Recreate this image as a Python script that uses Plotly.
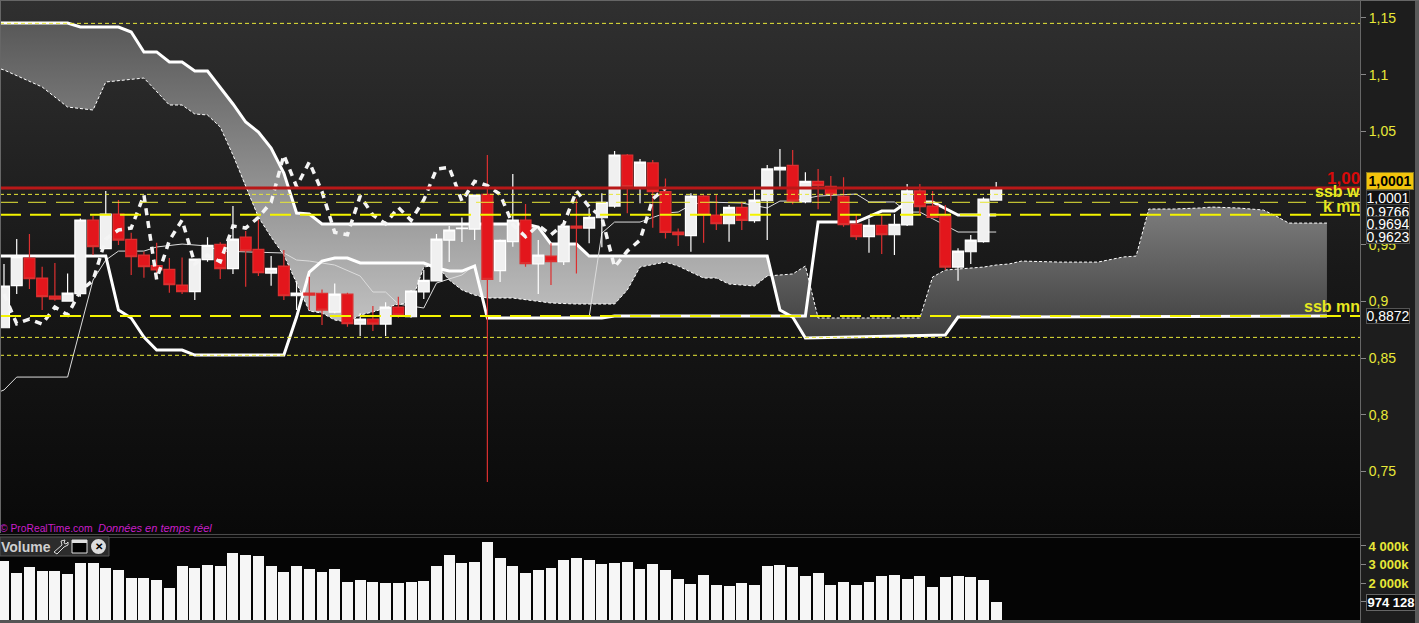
import numpy as np
import plotly.graph_objects as go

W, H = 1419, 623
# --- candles, one entry per bar
OPEN = [.8768,.9139,.9383,.9206,.9047,.9003,.9068,.9718,.9465,.9771,.9547,.9409,.9315,.9283,.9144,.9086,.9368,.9503,.9289,.9568,
        .9459,.9250,.9312,.9050,.9074,.9071,.8906,.9065,.8800,.8845,.8800,.8950,.8865,.9083,.9180,.9541,.9641,.9638,.9944,.9271,
        .9527,.9718,.9330,.9400,.9350,.9665,.9647,.9738,.9841,1.0291,1.0012,1.0221,.9968,.9612,.9580,.9929,.9762,.9685,.9829,.9712,
        .9888,1.0159,1.0200,.9877,1.0059,1.0015,.9926,.9682,.9571,.9671,.9588,.9674,.9974,.9841,.9753,.9303,.9438,.9527,.9894]
HIGH = [.9330,.9550,.9594,.9306,.9338,.9247,.9732,.9753,.9974,.9894,.9606,.9438,.9518,.9383,.9388,.9374,.9565,.9521,.9841,.9621,
        .9718,.9400,.9453,.9177,.9218,.9106,.9159,.9077,.8895,.8959,.8992,.9042,.9100,.9277,.9594,.9665,.9741,.9938,1.0291,.9547,
        1.0123,.9859,.9541,.9512,.9718,.9900,.9821,.9953,1.0326,1.0300,1.0256,1.0247,1.0085,.9644,.9953,.9938,.9938,.9850,.9879,.9988,
        1.0203,1.0344,1.0335,1.0138,1.0168,1.0106,1.0094,.9762,.9732,.9762,.9771,1.0035,1.0035,.9974,.9850,.9468,.9585,.9918,1.0053]
LOW = [.8768,.9065,.9109,.8924,.9006,.8997,.9042,.9409,.9465,.9497,.9233,.9209,.9247,.9077,.9065,.9012,.9350,.9197,.9241,.9130,
       .9224,.9139,.9012,.8924,.8924,.8792,.8895,.8777,.8695,.8739,.8695,.8856,.8856,.9021,.9180,.9347,.9524,.9541,.7407,.9171,
       .9483,.9306,.9065,.9144,.9321,.9247,.9512,.9477,.9827,.9777,.9865,.9650,.9556,.9488,.9438,.9518,.9630,.9527,.9630,.9694,
       .9541,1.0012,.9856,.9865,.9812,.9888,.9659,.9541,.9430,.9418,.9409,.9665,.9771,.9732,.9277,.9183,.9330,.9518,.9894]
CLOSE = [.9136,.9394,.9200,.9042,.9021,.9074,.9718,.9483,.9771,.9541,.9394,.9306,.9277,.9147,.9086,.9374,.9494,.9289,.9550,.9447,
         .9253,.9291,.9050,.9074,.9056,.8924,.9065,.8803,.8845,.8800,.8950,.8880,.9092,.9186,.9550,.9630,.9647,.9938,.9194,.9538,
         .9718,.9333,.9409,.9350,.9665,.9647,.9741,.9874,1.0291,1.0012,1.0229,.9968,.9609,.9588,.9929,.9762,.9685,.9829,.9715,.9894,
         1.0168,1.0182,.9885,1.0059,1.0021,.9944,.9677,.9571,.9671,.9588,.9680,.9974,.9835,.9741,.9303,.9444,.9541,.9903,1.0001]
VOLUME_K = [3189,2541,2865,2649,2649,2486,3081,3081,2811,2703,2270,2270,2162,1730,2919,2811,2973,2919,3622,3514,
            3459,2919,2595,2919,2757,2595,2757,2054,2162,2054,2000,2000,2054,2108,2919,3514,3081,3135,4216,3351,
            2919,2541,2703,2811,3243,3351,3243,3027,3081,3135,2757,3027,2703,2216,1946,2432,1892,1838,2000,1892,
            2919,2973,2865,2378,2541,1892,2054,1892,2054,2378,2432,2216,2378,1784,2324,2378,2324,2162,974]

# --- ichimoku lines: vertices as (bar index, price)
SSB_IDX = [-1,5,6,9,10,11,12,13,14,15,16,17,18,19,20,21,22,23,24,25,41,42,43,45,46,60,61,62,63,74,75,104]
SSB = [1.1455,1.1455,1.1420,1.1420,1.1376,1.1200,1.1200,1.1111,1.1111,1.1032,1.1032,1.0891,1.0741,1.0582,1.0494,1.0353,1.0132,.9780,.9771,.9683,
       .9683,.9656,.9506,.9506,.9400,.9400,.8924,.8862,.8677,.8704,.8862,.8871]
SSA_IDX = [-1,0,3,5,7,8,11,13,14,15,16,17,18,19,20,21,22,23,24,25,26,27,28,29,31,32,33,34,35,36,37,38,40,43,45,48,49,50,52,53,54,55,56,57,59,60,62,63,
           64,72,73,74,77,78,79,80,83,86,88,89,90,92,94,95,97,99,100,101,104]
SSA = [1.1076,1.1041,1.0891,1.0714,1.0688,1.0935,1.0970,1.0732,1.0732,1.0653,1.0644,1.0538,1.0291,1.0009,.9744,.9568,.9409,.9162,.8915,.8898,.8836,.8818,.8880,.8907,.8977,.8986,.9303,.9321,.9189,.9101,.9056,.9030,.9030,.8986,.8977,.8977,.9101,.9303,.9347,.9312,.9259,.9206,.9206,.9153,.9136,.9224,.9242,.9312,
       .8854,.8854,.9215,.9277,.9303,.9321,.9330,.9356,.9347,.9347,.9392,.9400,.9815,.9815,.9824,.9832,.9824,.9806,.9753,.9691,.9691]
KIJUN_IDX = [-1,8,9,10,11,12,14,15,22,23,24,25,26,27,28,33,34,35,36,37,38,47,48,63,64,67,69,70,71,73,75,78]
KIJUN = [.9400,.9400,.8924,.8854,.8686,.8571,.8571,.8527,.8527,.8862,.9259,.9356,.9383,.9383,.9339,.9339,.9295,.9268,.9268,.9312,.8854,.8854,.8871,.8871,.9700,.9700,.9797,.9797,.9877,.9877,.9762,.9762]
TENKAN_IDX = [-1,0,1,5,7,8,9,11,12,14,16,17,22,23,24,25,26,28,29,30,31,33,34,35,36,37,38,46,47,48,50,52,53,54,55,58,60,61,62,64,67,68,70,71,72,75,78]
TENKAN = [.8175,.8219,.8333,.8333,.9189,.9365,.9444,.9444,.9480,.9506,.9489,.9444,.9427,.9365,.9356,.9339,.9321,.9224,.9083,.9083,.8977,.8942,.9162,.9198,.9233,.9321,.8854,.8862,.9603,.9700,.9700,.9780,.9788,.9850,.9877,.9868,.9824,.9885,.9885,.9929,.9947,.9877,.9877,.9788,.9788,.9612,.9612]
CHIKOU_SHIFT = 26
CLOUD_CROSS_IDX = 60.37

Y_TICK_VALS = [1.15,1.10,1.05,.95,.90,.85,.80,.75]
Y_TICK_TEXT = ["1,15","1,1","1,05","0,95","0,9","0,85","0,8","0,75"]
VOL_TICK_VALS = [4000,3000,2000,974]
VOL_TICK_TEXT = ["<b>4 000k</b>","<b>3 000k</b>","<b>2 000k</b>",""]
THIN_LEVELS = [1.1452,.9944,.8683,.8525]
MID_LEVELS = [.9874]
THICK_LEVELS = [.9765,.8871]
RED_LEVEL = 1.0001
PRICE_RANGE = [.6958,1.1658]
VOL_RANGE = [0,4486]
BARS = list(range(len(CLOSE)))
X_RANGE = [-0.314,106.6]
YEL = "#e8e838"
FONT = "Liberation Sans"

def poly(lo, hi):
    xs = sorted({lo, hi} | {i for i in SSA_IDX + SSB_IDX if lo < i < hi})
    a = np.interp(xs, SSA_IDX, SSA)
    b = np.interp(xs, SSB_IDX, SSB)
    return xs + xs[::-1], list(a) + list(b[::-1])

fig = go.Figure()
# panel background gradient
fig.add_trace(go.Scatter(x=[X_RANGE[0],X_RANGE[1],X_RANGE[1],X_RANGE[0]], y=[PRICE_RANGE[0],PRICE_RANGE[0],PRICE_RANGE[1],PRICE_RANGE[1]],
    mode="none", fill="toself", hoverinfo="skip", showlegend=False,
    fillgradient=dict(type="vertical", colorscale=[[0,"#090909"],[0.5,"#191919"],[1,"#303030"]], start=PRICE_RANGE[0], stop=PRICE_RANGE[1])))
# cloud
x1, y1 = poly(-1, CLOUD_CROSS_IDX)
fig.add_trace(go.Scatter(x=x1, y=y1, mode="none", fill="toself", hoverinfo="skip", showlegend=False,
    fillgradient=dict(type="vertical", colorscale=[[0,"#c0c0c0"],[1,"#585858"]], start=.8836, stop=1.1455)))
x2, y2 = poly(CLOUD_CROSS_IDX, 104)
fig.add_trace(go.Scatter(x=x2, y=y2, mode="none", fill="toself", hoverinfo="skip", showlegend=False,
    fillgradient=dict(type="vertical", colorscale=[[0,"#3e3e3e"],[1,"#7c7c7c"]], start=.8677, stop=.9824)))
fig.add_trace(go.Scatter(x=SSA_IDX, y=SSA, mode="lines", line=dict(color="#ffffff", width=1, dash="3px,2px"), hoverinfo="skip", showlegend=False))
fig.add_trace(go.Scatter(x=SSB_IDX, y=SSB, mode="lines", line=dict(color="#ffffff", width=3), hoverinfo="skip", showlegend=False))
fig.add_trace(go.Scatter(x=TENKAN_IDX, y=TENKAN, mode="lines", line=dict(color="#dcdcdc", width=1), hoverinfo="skip", showlegend=False))
fig.add_trace(go.Scatter(x=KIJUN_IDX, y=KIJUN, mode="lines", line=dict(color="#ffffff", width=3), hoverinfo="skip", showlegend=False))
# overlay subplot: candles then the lagging line, above the cloud and the other lines
fig.add_trace(go.Candlestick(x=BARS, open=OPEN, high=HIGH, low=LOW, close=CLOSE, showlegend=False, hoverinfo="skip", whiskerwidth=0,
    xaxis="x3", yaxis="y3",
    increasing=dict(line=dict(color="#ffffff", width=1.2), fillcolor="#f0f0f0"),
    decreasing=dict(line=dict(color="#dc3030", width=1.2), fillcolor="#e3161c")))
fig.add_trace(go.Scatter(x=[b - CHIKOU_SHIFT for b in BARS[CHIKOU_SHIFT:]], y=CLOSE[CHIKOU_SHIFT:], mode="lines", xaxis="x3", yaxis="y3",
    line=dict(color="#f4f4f4", width=3.5, dash="7px,6px"), hoverinfo="skip", showlegend=False))
# volume
fig.add_trace(go.Bar(x=BARS, y=VOLUME_K, width=0.86, marker=dict(color="#f6f6f6", line=dict(width=0)), xaxis="x2", yaxis="y2", hoverinfo="skip", showlegend=False))

def px(x): return x / W
def py(y): return 1 - y / H

shapes = []
for v in THIN_LEVELS:
    shapes.append(dict(type="line", xref="x domain", x0=0, x1=1, yref="y", y0=v, y1=v, line=dict(color=YEL, width=1, dash="4px,3px")))
for v in MID_LEVELS:
    shapes.append(dict(type="line", xref="x domain", x0=0, x1=1, yref="y", y0=v, y1=v, line=dict(color=YEL, width=1, dash="18px,10px")))
for v in THICK_LEVELS:
    shapes.append(dict(type="line", xref="x domain", x0=0, x1=1, yref="y", y0=v, y1=v, line=dict(color="#f4f400", width=2, dash="21px,9px")))
shapes.append(dict(type="line", xref="x domain", x0=0, x1=1, yref="y", y0=RED_LEVEL, y1=RED_LEVEL, line=dict(color="#b81818", width=3)))

def rect(x0, y0, x1, y1, fill, line=None, lw=0, layer="above"):
    return dict(type="rect", xref="paper", yref="paper", x0=px(x0), x1=px(x1), y0=py(y0), y1=py(y1),
                fillcolor=fill, line=dict(color=line or fill, width=lw), layer=layer)

# frame pieces
shapes += [
    rect(0, 533, 1360, 537, "#0a0a0a"),
    rect(0, 534, 1360, 535, "#4a4a4a"),
    rect(0, 537, 1360, 538, "#3c3c3c"),
    rect(1360, 0, 1361, 623, "#666666"),
    rect(0, 620, 1361, 623, "#555555"),
    rect(1415, 0, 1419, 623, "#5a5a5a"),
    rect(0, 0, 1419, 1, "#666666"),
    rect(0, 0, 1, 533, "#666666"),
    # volume tool strip
    rect(0, 537, 109, 556, "#2c2c2c", "#555555", 1),
    rect(72, 540, 87, 553, "#000000", "#dddddd", 1),
    rect(72, 540, 87, 543, "#dddddd"),
    dict(type="circle", xref="paper", yref="paper", x0=px(91), x1=px(106), y0=py(539), y1=py(554), fillcolor="#dcdcdc", line=dict(width=0)),
    dict(type="path", xref="paper", yref="paper", line=dict(color="#dddddd", width=1),
         path=f"M {px(54)},{py(552)} L {px(62)},{py(545)} L {px(61)},{py(541)} L {px(65)},{py(540)} L {px(64)},{py(543)} L {px(66)},{py(544)} L {px(68)},{py(542)} L {px(68)},{py(545)} L {px(64)},{py(547)} L {px(57)},{py(554)} Z"),
]

def note(x, y, text, color, size, anchor="right", bold=False, italic=False, bg=None, border=None, w=None, h=None, align=None):
    t = text
    if bold: t = f"<b>{t}</b>"
    if italic: t = f"<i>{t}</i>"
    d = dict(xref="paper", yref="paper", x=px(x), y=py(y), xanchor=anchor, yanchor="middle", text=t, showarrow=False,
             font=dict(family=FONT, size=size, color=color), borderpad=0, borderwidth=0)
    if bg: d["bgcolor"] = bg
    if border: d.update(bordercolor=border, borderwidth=1)
    if w: d["width"] = w
    if h: d["height"] = h
    if align: d["align"] = align
    return d

anns = [
    note(1360, 179, "1,00", "#d80a0a", 17, bold=True),
    note(1360, 192, "ssb w", "#e8e820", 16, bold=True),
    note(1360, 206, "k mn", "#e8e820", 16, bold=True),
    note(1360, 306, "ssb mn", "#e8e820", 16, bold=True),
    note(1366, 180.5, "<b>1,0001</b>", "#000000", 14, anchor="left", bg="#f2c40c", border="#8a7a20", w=46, h=16),
    note(1366, 197.5, "1,0001", "#ffffff", 14, anchor="left", bg="#111111", border="#444444", w=42, h=14),
    note(1366, 212, "0,9766", "#ffffff", 14, anchor="left", bg="#1a1a1a", border="#444444", w=42, h=14),
    note(1366, 224, "0,9694", "#ffffff", 14, anchor="left", bg="#1a1a1a", border="#444444", w=42, h=14),
    note(1366, 236, "0,9623", "#ffffff", 14, anchor="left", bg="#1a1a1a", border="#555555", w=42, h=13),
    note(1366, 316, "0,8872", "#ffffff", 14, anchor="left", bg="#111111", border="#555555", w=42, h=14),
    note(1366, 602.5, "<b>974 128</b>", "#ffffff", 13, anchor="left", bg="#0c0c0c", border="#666666", w=48, h=15),
    note(0, 528, "© ProRealTime.com", "#c81ec8", 10.3, anchor="left"),
    note(98, 528, "Données en temps réel", "#c81ec8", 11, anchor="left", italic=True),
    note(1, 547, "Volume", "#cfcfcf", 14, anchor="left", bold=True),
    note(98.5, 546.5, "✕", "#000000", 10, anchor="center", bold=True),
]

fig.update_layout(
    width=W, height=H, autosize=False, margin=dict(l=0, r=0, t=0, b=0),
    paper_bgcolor="#1d1d1d", plot_bgcolor="#050505", showlegend=False, hovermode=False, bargap=0,
    boxgap=0.14, boxgroupgap=0,
    font=dict(family=FONT),
    xaxis=dict(domain=[0, 1360/W], range=X_RANGE, visible=False, fixedrange=True),
    xaxis3=dict(range=X_RANGE, overlaying="x", visible=False, rangeslider=dict(visible=False), fixedrange=True),
    xaxis2=dict(domain=[0, 1360/W], range=X_RANGE, visible=False, anchor="y2", fixedrange=True),
    yaxis=dict(domain=[1-533/H, 1], range=PRICE_RANGE, side="right", showgrid=False, zeroline=False, tickmode="array",
               tickvals=Y_TICK_VALS, ticktext=Y_TICK_TEXT, tickfont=dict(family=FONT, size=14, color=YEL),
               ticks="outside", ticklen=5, tickcolor="#888888", showline=False, fixedrange=True),
    yaxis3=dict(range=PRICE_RANGE, overlaying="y", side="right", visible=False, fixedrange=True),
    yaxis2=dict(domain=[3/H, 86/H], range=VOL_RANGE, side="right", anchor="x2", showgrid=False, zeroline=False, tickmode="array",
                tickvals=VOL_TICK_VALS, ticktext=VOL_TICK_TEXT, tickfont=dict(family=FONT, size=13, color=YEL),
                ticks="outside", ticklen=5, tickcolor="#888888", showline=False, fixedrange=True),
    shapes=shapes, annotations=anns,
)
fig.write_html("out.html", config=dict(displayModeBar=False, responsive=False),
               post_script="document.body.style.margin='0';document.body.style.background='#1d1d1d';document.documentElement.style.overflow='hidden';")
